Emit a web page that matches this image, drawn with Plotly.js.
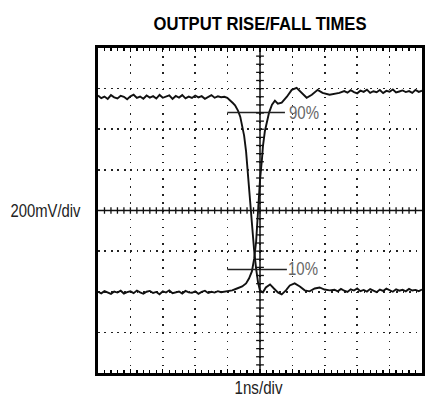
<!DOCTYPE html>
<html>
<head>
<meta charset="utf-8">
<script src="https://cdn.plot.ly/plotly-3.0.1.min.js"></script>
<style>
  html, body { margin: 0; padding: 0; background: #fff; }
  #chart { width: 425px; height: 403px; }
</style>
</head>
<body>
<div id="chart"></div>
<script>
// ---- Data (x in ns, y in mV; 1 ns/div, 200 mV/div) ----
var fallX = [0.0,0.1,0.2,0.3,0.4,0.5,0.6,0.7,0.8,0.9,1.0,1.1,1.2,1.3,1.4,1.5,1.6,1.7,1.8,1.9,
             2.0,2.1,2.2,2.3,2.4,2.5,2.6,2.7,2.8,2.9,3.0,3.1,3.2,3.3,3.4,3.5,3.6,3.7,3.8,3.9,
             3.99,4.08,4.17,4.23,4.32,4.39,4.45,4.51,4.57,4.63,4.69,4.75,4.82,4.88,4.94,5.0,
             5.09,5.18,5.31,5.43,5.55,5.67,5.80,5.92,6.07,6.23,6.38,6.53,6.69,6.84,6.99,7.15,
             7.3,7.4,7.5,7.6,7.7,7.8,7.9,8.0,8.1,8.2,8.3,8.4,8.5,8.6,8.7,8.8,8.9,9.0,9.1,9.2,
             9.3,9.4,9.5,9.6,9.7,9.8,9.9,10.0];
var fallY = [566,553,561,549,568,557,552,565,560,548,562,570,554,561,550,566,556,563,551,569,
             555,560,567,549,564,556,568,552,561,554,566,557,563,550,560,568,555,562,558,560,
             555,543,528,518,492,462,423,369,291,169,32,-90,-198,-286,-355,-394,
             -403,-379,-364,-384,-403,-413,-393,-369,-359,-374,-393,-398,-384,-379,-389,-393,
             -390,-398,-386,-395,-401,-388,-394,-384,-397,-391,-399,-387,-393,-402,-389,-396,
             -385,-392,-400,-388,-395,-390,-398,-386,-394,-391,-397,-389];

var riseX = [0.0,0.1,0.2,0.3,0.4,0.5,0.6,0.7,0.8,0.9,1.0,1.1,1.2,1.3,1.4,1.5,1.6,1.7,1.8,1.9,
             2.0,2.1,2.2,2.3,2.4,2.5,2.6,2.7,2.8,2.9,3.0,3.1,3.2,3.3,3.4,3.5,3.6,3.7,3.8,3.9,
             3.99,4.14,4.29,4.45,4.57,4.66,4.75,4.82,4.88,4.91,4.94,4.97,5.0,5.06,5.09,5.15,
             5.21,5.28,5.37,5.46,5.55,5.67,5.83,5.98,6.13,6.29,6.44,6.60,6.78,6.93,7.15,7.45,
             7.6,7.7,7.8,7.9,8.0,8.1,8.2,8.3,8.4,8.5,8.6,8.7,8.8,8.9,9.0,9.1,9.2,9.3,9.4,9.5,
             9.6,9.7,9.8,9.9,10.0];
var riseY = [-400,-408,-397,-405,-411,-399,-404,-395,-409,-402,-398,-407,-394,-403,-410,-400,-396,-406,-401,-412,
             -398,-404,-393,-407,-402,-399,-409,-396,-403,-405,-398,-410,-401,-395,-406,-400,-404,-397,-402,-399,
             -398,-393,-384,-374,-359,-335,-300,-237,-154,-76,8,57,150,252,316,390,
             430,482,521,541,526,531,560,594,604,579,555,570,594,579,570,579,
             588,580,592,583,577,590,584,595,579,587,582,593,578,589,585,596,581,586,591,583,
             588,579,594,584,590];

var mark90X = [3.99, 5.77];
var mark90Y = [482, 482];
var mark10X = [3.99, 5.83];
var mark10Y = [-290, -290];

var titleText = "OUTPUT RISE/FALL TIMES";
var xLabel = "1ns/div";
var yLabel = "200mV/div";
var label90 = "90%";
var label10 = "10%";

// ---- Graticule (styling only) ----
var shapes = [];
var ink = "#111";
shapes.push({type:"line", xref:"x", yref:"y", x0:5, x1:5, y0:-800, y1:800, line:{color:ink, width:1.5}});
shapes.push({type:"line", xref:"x", yref:"y", x0:0, x1:10, y0:0, y1:0, line:{color:ink, width:1.5}});
for (var i = 1; i < 40; i++) {
  var yy = -800 + i * 40;
  shapes.push({type:"line", xref:"x", yref:"y", x0:4.88, x1:5.12, y0:yy, y1:yy, line:{color:ink, width:1.3}});
}
for (var j = 1; j < 50; j++) {
  var xx = j * 0.2;
  shapes.push({type:"line", xref:"x", yref:"y", x0:xx, x1:xx, y0:-16, y1:16, line:{color:ink, width:1.3}});
}

var lbl = "Liberation Sans, Arial, sans-serif";

var traces = [
  {x: fallX, y: fallY, mode:"lines", line:{color:"#111", width:1.9}, hoverinfo:"skip"},
  {x: riseX, y: riseY, mode:"lines", line:{color:"#111", width:1.9}, hoverinfo:"skip"},
  {x: mark90X, y: mark90Y, mode:"lines", line:{color:"#222", width:1.5}, hoverinfo:"skip"},
  {x: mark10X, y: mark10Y, mode:"lines", line:{color:"#222", width:1.5}, hoverinfo:"skip"}
];

var layout = {
  width: 425, height: 403,
  margin: {l: 98, r: 3, t: 48, b: 30, pad: 0},
  paper_bgcolor: "#fff", plot_bgcolor: "#fff",
  showlegend: false,
  title: {
    text: "<b>" + titleText + "</b>",
    font: {family: lbl, size: 19, color: "#000"},
    x: 0.5, xref: "paper", xanchor: "center",
    y: 0.943, yref: "container", yanchor: "middle"
  },
  xaxis: {
    range: [0, 10], tick0: 0, dtick: 1, fixedrange: true,
    showticklabels: false, zeroline: false,
    showgrid: true, gridcolor: "#222", gridwidth: 1.6, griddash: "1.6px,6.525px",
    showline: true, linecolor: "#000", linewidth: 3, mirror: "ticks",
    ticks: "inside", ticklen: 4, tickwidth: 1.3, tickcolor: "#000",
    minor: {dtick: 0.2, tick0: 0, ticks: "inside", ticklen: 3, tickwidth: 1.3, tickcolor: "#000", showgrid: false}
  },
  yaxis: {
    range: [-800, 800], tick0: -800, dtick: 200, fixedrange: true,
    showticklabels: false, zeroline: false,
    showgrid: true, gridcolor: "#222", gridwidth: 1.6, griddash: "1.6px,4.88px",
    showline: true, linecolor: "#000", linewidth: 3, mirror: true,
    ticks: ""
  },
  shapes: shapes,
  annotations: [
    {text: label90, xref:"x", yref:"y", x: 6.36, y: 482, xanchor:"center", yanchor:"middle",
     showarrow:false, font:{family: lbl, size: 18, color:"#666"}},
    {text: label10, xref:"x", yref:"y", x: 6.33, y: -290, xanchor:"center", yanchor:"middle",
     showarrow:false, font:{family: lbl, size: 18, color:"#666"}},
    {text: yLabel, xref:"paper", yref:"y", x: -0.1605, y: 0, xanchor:"center", yanchor:"middle",
     showarrow:false, font:{family: lbl, size: 18, color:"#222"}},
    {text: xLabel, xref:"paper", yref:"paper", x: 0.494, y: 0, yshift: -15, xanchor:"center", yanchor:"middle",
     showarrow:false, font:{family: lbl, size: 18, color:"#222"}}
  ]
};

// target rendered widths (px) to mimic the condensed typeface of the original
var squeeze = {};
squeeze[titleText] = 213;
squeeze[yLabel] = 70;
squeeze[xLabel] = 48;
squeeze[label90] = 30;
squeeze[label10] = 30;

Plotly.newPlot("chart", traces, layout, {displayModeBar: false, staticPlot: true}).then(function (gd) {
  var texts = gd.querySelectorAll("text.gtitle, text.annotation-text");
  texts.forEach(function (t) {
    var w = squeeze[t.textContent];
    if (w) {
      t.setAttribute("textLength", w);
      t.setAttribute("lengthAdjust", "spacingAndGlyphs");
    }
  });
});
</script>
</body>
</html>
